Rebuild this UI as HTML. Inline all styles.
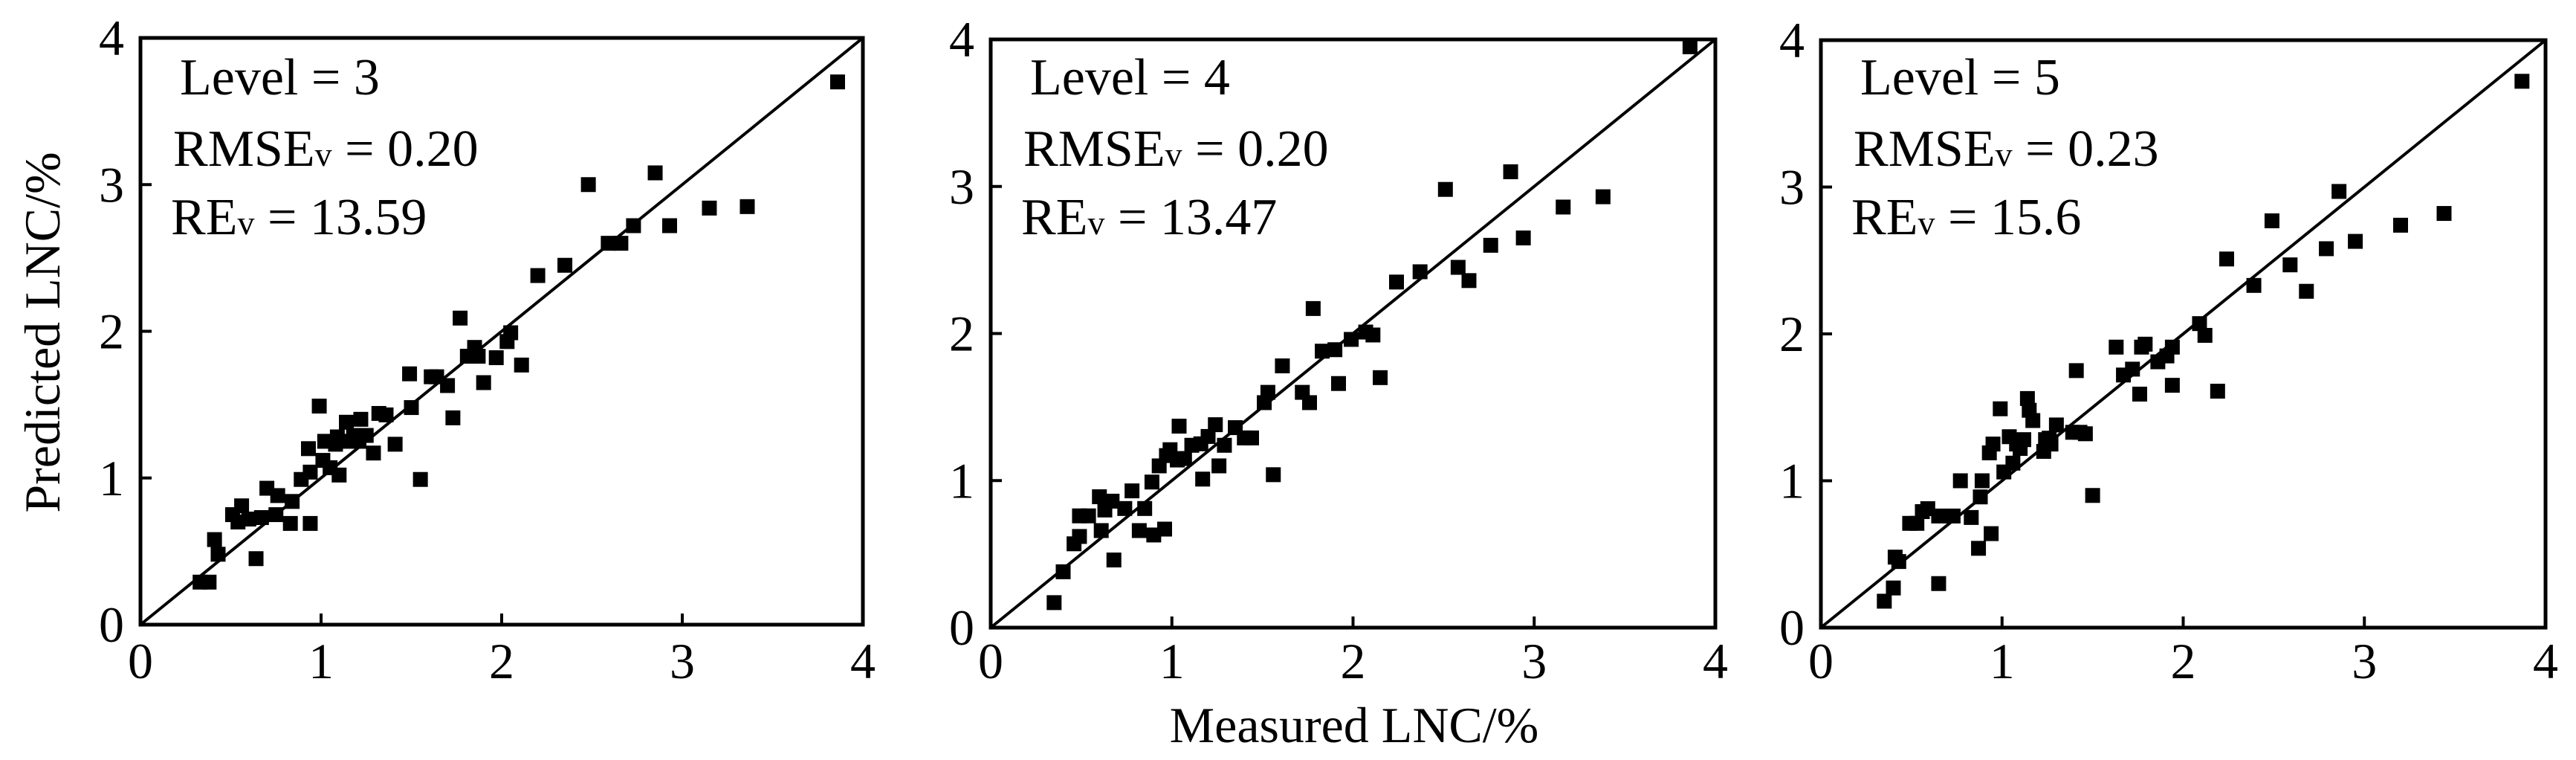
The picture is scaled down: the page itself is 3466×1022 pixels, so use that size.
<!DOCTYPE html>
<html><head><meta charset="utf-8"><style>
html,body{margin:0;padding:0;background:#fff;}
svg{display:block;}
text,tspan{font-family:"Liberation Serif","Times New Roman",serif;fill:#000;}
</style></head><body>
<svg id="chart" width="3466" height="1022" viewBox="0 0 3466 1022" xmlns="http://www.w3.org/2000/svg" font-family="Liberation Serif, serif">
<text font-family="Liberation Serif, serif" transform="translate(80,447) rotate(-90)" text-anchor="middle" font-size="68">Predicted LNC/%</text>
<text font-family="Liberation Serif, serif" x="1822" y="998" text-anchor="middle" font-size="68">Measured LNC/%</text>
</svg>
<script>
const tickValues = [0, 1, 2, 3, 4];
const tickLabels = ["0", "1", "2", "3", "4"];
const levels = ["3", "4", "5"];
const rmseValues = ["0.20", "0.20", "0.23"];
const reValues = ["13.59", "13.47", "15.6"];

const measured1 = [3.86,2.48,2.85,3.15,3.36,2.93,2.73,2.59,2.66,2.35,2.20,1.77,2.03,2.05,2.11,1.85,1.87,1.81,1.97,1.90,1.49,1.61,1.64,1.70,1.73,1.50,1.55,1.41,1.36,1.32,1.22,1.25,1.16,1.18,1.14,1.21,1.29,1.08,1.09,0.99,1.02,1.01,1.05,1.10,0.93,0.94,0.89,0.84,0.94,0.83,0.76,0.70,0.67,0.75,0.60,0.54,0.56,0.51,0.41,0.43,0.64,0.33,0.38];
const predicted1 = [3.70,3.00,3.08,2.84,2.85,2.72,2.72,2.60,2.60,2.45,2.38,2.09,1.93,1.99,1.77,1.89,1.83,1.83,1.82,1.65,1.71,1.69,1.69,1.63,1.41,1.48,0.99,1.23,1.43,1.44,1.40,1.29,1.25,1.29,1.38,1.25,1.17,1.23,1.28,1.49,1.25,1.12,1.07,1.02,1.20,1.04,0.99,0.84,0.69,0.69,0.88,0.93,0.73,0.75,0.72,0.70,0.81,0.75,0.58,0.48,0.45,0.29,0.29];

const measured2 = [3.86,2.51,2.87,3.38,3.16,2.94,2.76,2.58,2.64,2.37,2.24,1.78,2.11,2.07,1.99,1.83,1.90,1.92,2.15,1.61,1.72,1.76,1.51,1.53,1.56,1.35,1.40,1.44,1.24,1.20,1.29,1.16,1.11,1.26,1.17,1.04,1.07,1.03,0.97,0.99,0.93,0.89,0.78,0.85,0.74,0.67,0.60,0.63,0.49,0.54,0.61,0.82,0.90,0.96,0.68,0.49,0.46,0.40,0.35];
const predicted2 = [3.95,2.98,3.10,2.93,2.86,2.65,2.60,2.45,2.36,2.42,2.35,2.17,1.99,2.01,1.96,1.88,1.89,1.66,1.70,1.78,1.60,1.53,1.53,1.60,1.04,1.36,1.29,1.29,1.38,1.30,1.24,1.25,1.24,1.10,1.01,1.37,1.15,1.14,1.17,1.21,1.10,0.99,0.93,0.81,0.81,0.86,0.89,0.80,0.76,0.76,0.66,0.66,0.63,0.67,0.46,0.62,0.57,0.38,0.17];

const measured3 = [3.87,2.86,3.44,3.20,2.49,2.95,2.79,2.59,2.68,2.24,2.39,2.09,2.12,1.94,1.86,1.91,1.77,1.79,1.63,1.72,1.67,1.76,1.94,2.19,1.41,1.14,1.15,1.17,1.24,1.27,1.23,1.30,1.39,1.43,0.99,1.04,1.08,1.10,1.12,0.93,0.95,1.01,1.06,1.46,1.50,1.26,0.89,0.77,0.88,0.83,0.65,0.59,0.56,0.49,0.53,0.73,0.94,0.87,0.41,0.43,0.65,0.40,0.35];
const predicted3 = [3.72,2.97,2.82,2.74,2.77,2.63,2.58,2.47,2.29,2.51,2.33,2.07,1.99,1.91,1.81,1.85,1.91,1.93,1.91,1.76,1.72,1.59,1.65,1.61,1.75,1.56,1.48,1.41,1.28,1.25,1.20,1.38,1.33,1.33,1.49,1.30,1.25,1.22,1.28,1.19,1.25,1.06,1.12,1.32,0.90,1.29,1.00,1.00,0.89,0.75,0.76,0.81,0.79,0.71,0.71,0.76,0.64,0.54,0.48,0.45,0.30,0.27,0.18];

const measuredSets = [measured1, measured2, measured3];
const predictedSets = [predicted1, predicted2, predicted3];

const NS = "http://www.w3.org/2000/svg";
const FONT = "Liberation Serif, serif";
const svg = document.getElementById("chart");
const frames = [
  {x0:189, x1:1161, y0:840, y1:51},
  {x0:1333, x1:2308, y0:844, y1:53},
  {x0:2450, x1:3425, y0:844, y1:54}
];
function mk(tag, attrs, parent){
  const e = document.createElementNS(NS, tag);
  for (const k in attrs) e.setAttribute(k, attrs[k]);
  (parent || svg).appendChild(e);
  return e;
}
frames.forEach((f, p) => {
  const sx = v => f.x0 + (f.x1 - f.x0) * v / 4;
  const sy = v => f.y0 - (f.y0 - f.y1) * v / 4;
  const g = mk("g", {});
  
  
  const fr = mk("rect", {x:f.x0, y:f.y1, width:f.x1-f.x0, height:f.y0-f.y1, fill:"none", stroke:"#000", "stroke-width":5}, g);
  
  
  tickValues.forEach((t, i) => {
    const yt = mk("line", {x1:f.x0, x2:f.x0+15, y1:sy(t), y2:sy(t), stroke:"#000", "stroke-width":4}, g);
    
    
    const xt = mk("line", {x1:sx(t), x2:sx(t), y1:f.y0, y2:f.y0-15, stroke:"#000", "stroke-width":4}, g);
    
    
    const yl = mk("text", {x:f.x0-22, y:sy(t)+23, "text-anchor":"end", "font-size":68, "font-family":FONT}, g);
    yl.textContent = tickLabels[i];
    
    
    const xl = mk("text", {x:sx(t), y:912, "text-anchor":"middle", "font-size":68, "font-family":FONT}, g);
    xl.textContent = tickLabels[i];
    
    
  });
  const d = mk("line", {x1:sx(0), y1:sy(0), x2:sx(4), y2:sy(4), stroke:"#000", "stroke-width":4}, g);
  
  
  const ms = measuredSets[p], ps = predictedSets[p];
  ms.forEach((m, i) => {
    const r = mk("rect", {x:sx(m)-10, y:sy(ps[i])-10, width:20, height:20, fill:"#000"}, g);
    
    
  });
  const t1 = mk("text", {x:f.x0+53, y:127, "font-size":70, "font-family":FONT}, g);
  t1.textContent = "Level = " + levels[p];
  
  
  const t2 = mk("text", {x:f.x0+44, y:223, "font-size":70, "font-family":FONT}, g);
  
  
  t2.appendChild(document.createTextNode("RMSE"));
  const s2 = mk("tspan", {"font-size":46, "font-family":FONT}, t2);
  s2.textContent = "v";
  t2.appendChild(document.createTextNode(" = " + rmseValues[p]));
  const t3 = mk("text", {x:f.x0+41, y:315, "font-size":70, "font-family":FONT}, g);
  
  
  t3.appendChild(document.createTextNode("RE"));
  const s3 = mk("tspan", {"font-size":46, "font-family":FONT}, t3);
  s3.textContent = "v";
  t3.appendChild(document.createTextNode(" = " + reValues[p]));
});
</script>
</body></html>
